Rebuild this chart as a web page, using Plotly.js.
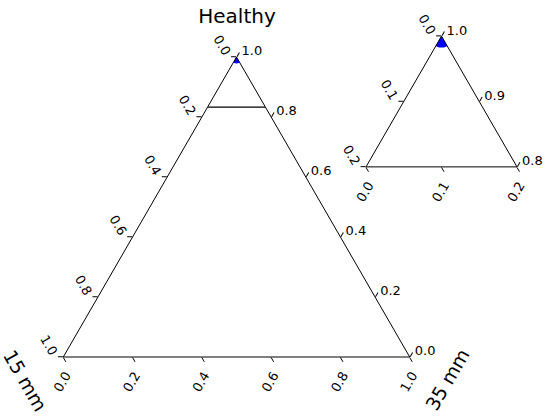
<!DOCTYPE html>
<html>
<head>
<meta charset="utf-8">
<script src="https://cdn.plot.ly/plotly-3.0.1.min.js"></script>
<style>html,body{margin:0;padding:0;background:#fff;}#chart{width:550px;height:420px;}</style>
</head>
<body>
<div id="chart"></div>
<script>
// Data: one point (Healthy) at the top corner, and the zoom-region boundary line
var pointA = [1.0];
var pointB = [0.0];
var pointC = [0.0];

var zoomLineA = [0.833, 0.833];
var zoomLineB = [0.167, 0.0];
var zoomLineC = [0.0, 0.167];

// Main triangle ticks (values along plotly's edge) and the labels shown
var mainTickVals = [0, 0.2, 0.4, 0.6, 0.8, 1.0];
var mainLeftLabels = ['1.0', '0.8', '0.6', '0.4', '0.2', '0.0'];   // 15 mm share
var mainBottomLabels = ['1.0', '0.8', '0.6', '0.4', '0.2', '0.0']; // 35 mm share
var mainRightLabels = ['1.0', '0.8', '0.6', '0.4', '0.2', '0.0'];  // Healthy share

// Inset (zoom) ticks
var insetATickVals = [0.8, 0.9, 1.0];
var insetLeftLabels = ['0.2', '0.1', '0.0'];
var insetBCTickVals = [0, 0.1, 0.2];
var insetBottomLabels = ['0.2', '0.1', '0.0'];
var insetRightLabels = ['1.0', '0.9', '0.8'];

var tickFont = {family: 'DejaVu Sans', size: 13, color: '#000'};

function axisBase(extra) {
  var o = {
    showgrid: false,
    showline: true,
    linecolor: '#000',
    linewidth: 1,
    ticks: 'outside',
    ticklen: 5,
    tickcolor: '#000',
    tickfont: tickFont,
    tickmode: 'array',
    title: {text: ''}
  };
  for (var k in extra) o[k] = extra[k];
  return o;
}

var traces = [
  {
    type: 'scatterternary', subplot: 'ternary', mode: 'lines',
    a: zoomLineA, b: zoomLineB, c: zoomLineC,
    line: {color: '#000', width: 1.3}, showlegend: false, hoverinfo: 'skip'
  },
  {
    type: 'scatterternary', subplot: 'ternary', mode: 'markers',
    a: pointA, b: pointB, c: pointC,
    marker: {color: '#0000ff', size: 13}, cliponaxis: true, showlegend: false
  },
  {
    type: 'scatterternary', subplot: 'ternary2', mode: 'markers',
    a: pointA, b: pointB, c: pointC,
    marker: {color: '#0000ff', size: 23}, cliponaxis: true, showlegend: false
  }
];

var layout = {
  width: 550, height: 420,
  margin: {l: 0, r: 0, t: 0, b: 0},
  paper_bgcolor: '#fff',
  showlegend: false,
  font: {family: 'DejaVu Sans', color: '#000'},
  title: {text: 'Healthy', x: 237/550, xanchor: 'center', xref: 'paper',
          y: 1 - 16/420, yanchor: 'middle', yref: 'container',
          font: {family: 'DejaVu Sans', size: 20, color: '#000'}},
  ternary: {
    domain: {x: [63/550, 410/550], y: [63/420, 363/420]},
    bgcolor: '#fff',
    sum: 1,
    aaxis: axisBase({tickvals: mainTickVals, ticktext: mainLeftLabels, tickangle: 60}),
    baxis: axisBase({tickvals: mainTickVals, ticktext: mainBottomLabels, tickangle: -60}),
    caxis: axisBase({tickvals: mainTickVals, ticktext: mainRightLabels, tickangle: 0})
  },
  ternary2: {
    domain: {x: [366/550, 517/550], y: [253/420, 384/420]},
    bgcolor: '#fff',
    sum: 1,
    aaxis: axisBase({min: 0.8, tickvals: insetATickVals, ticktext: insetLeftLabels, tickangle: 60}),
    baxis: axisBase({min: 0, tickvals: insetBCTickVals, ticktext: insetBottomLabels, tickangle: -60}),
    caxis: axisBase({min: 0, tickvals: insetBCTickVals, ticktext: insetRightLabels, tickangle: 0})
  },
  annotations: [
    {text: '15 mm', xref: 'paper', yref: 'paper', x: 25/550, y: 1 - 380/420,
     xanchor: 'center', yanchor: 'middle',
     showarrow: false, textangle: 60, font: {family: 'DejaVu Sans', size: 19, color: '#000'}},
    {text: '35 mm', xref: 'paper', yref: 'paper', x: 447/550, y: 1 - 380/420,
     xanchor: 'center', yanchor: 'middle',
     showarrow: false, textangle: -60, font: {family: 'DejaVu Sans', size: 19, color: '#000'}}
  ]
};

Plotly.newPlot('chart', traces, layout, {displayModeBar: false, staticPlot: true});
</script>
</body>
</html>
